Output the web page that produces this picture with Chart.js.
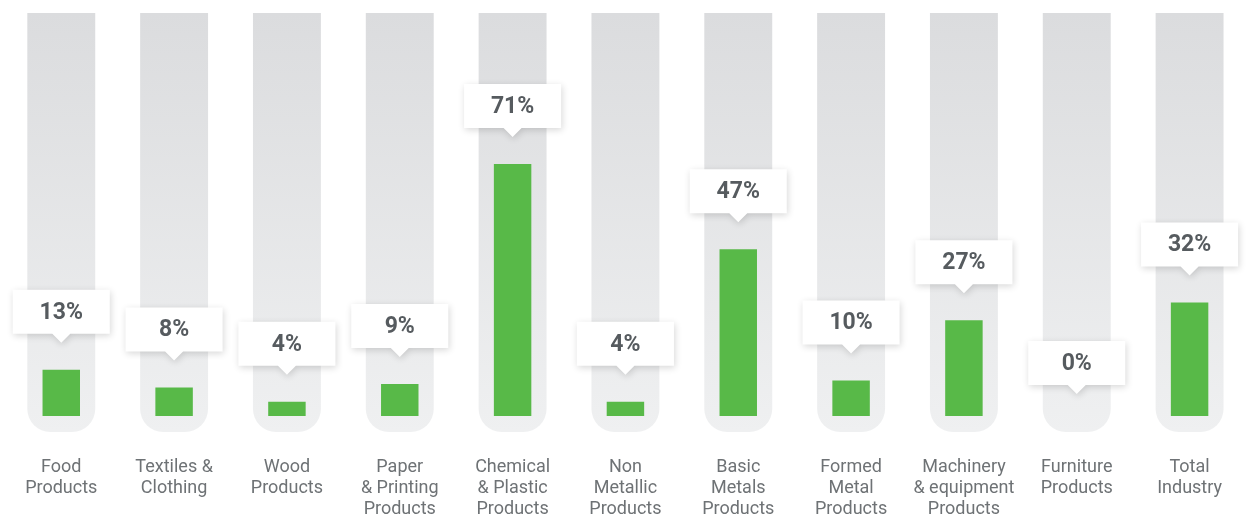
<!DOCTYPE html>
<html>
<head>
<meta charset="utf-8">
<script src="https://cdn.jsdelivr.net/npm/chart.js@4.4.1/dist/chart.umd.min.js"></script>
<style>
  html, body { margin: 0; padding: 0; background: #ffffff; }
  #wrap { width: 1251px; height: 518px; position: relative; }
</style>
</head>
<body>
<div id="wrap"><canvas id="c" width="1251" height="518"></canvas></div>
<script>
const categories = [
  ["Food", "Products"],
  ["Textiles &", "Clothing"],
  ["Wood", "Products"],
  ["Paper", "& Printing", "Products"],
  ["Chemical", "& Plastic", "Products"],
  ["Non", "Metallic", "Products"],
  ["Basic", "Metals", "Products"],
  ["Formed", "Metal", "Products"],
  ["Machinery", "& equipment", "Products"],
  ["Furniture", "Products"],
  ["Total", "Industry"]
];
const shareValues = [13, 8, 4, 9, 71, 4, 47, 10, 27, 0, 32];
const trackRange = [-4.5, 113.5];
const trackValues = categories.map(() => trackRange.slice());

const calloutPlugin = {
  id: 'callouts',
  afterDatasetsDraw(chart) {
    const ctx = chart.ctx;
    const meta = chart.getDatasetMeta(1);
    const boxW = 97, boxH = 44, tri = 9;
    meta.data.forEach((bar, i) => {
      const x = bar.x;
      const gap = shareValues[i] === 0 ? 22 : 27;
      const tipY = bar.y - gap;
      const bottom = tipY - tri;
      const top = bottom - boxH;
      const left = x - boxW / 2;
      ctx.save();
      ctx.shadowColor = 'rgba(0,0,0,0.16)';
      ctx.shadowBlur = 7;
      ctx.shadowOffsetX = 1;
      ctx.shadowOffsetY = 2;
      ctx.fillStyle = '#ffffff';
      ctx.beginPath();
      ctx.moveTo(left, top);
      ctx.lineTo(left + boxW, top);
      ctx.lineTo(left + boxW, bottom);
      ctx.lineTo(x + tri, bottom);
      ctx.lineTo(x, tipY);
      ctx.lineTo(x - tri, bottom);
      ctx.lineTo(left, bottom);
      ctx.closePath();
      ctx.fill();
      ctx.restore();
      ctx.save();
      ctx.fillStyle = '#565b5f';
      ctx.font = 'bold 23px Roboto, "DejaVu Sans", sans-serif';
      ctx.textAlign = 'center';
      ctx.textBaseline = 'middle';
      ctx.fillText(shareValues[i] + '%', x, top + boxH / 2 + 1);
      ctx.restore();
    });
  }
};

new Chart(document.getElementById('c'), {
  type: 'bar',
  data: {
    labels: categories,
    datasets: [
      {
        label: 'track',
        data: trackValues,
        grouped: false,
        order: 2,
        barPercentage: 0.602,
        categoryPercentage: 1,
        borderSkipped: false,
        borderRadius: { topLeft: 0, topRight: 0, bottomLeft: 23, bottomRight: 23 },
        backgroundColor: (c) => {
          const ca = c.chart.chartArea;
          if (!ca) return '#e5e6e7';
          const g = c.chart.ctx.createLinearGradient(0, ca.top, 0, ca.bottom);
          g.addColorStop(0, '#dbdcde');
          g.addColorStop(1, '#eff0f1');
          return g;
        }
      },
      {
        label: 'share',
        data: shareValues,
        grouped: false,
        order: 1,
        barPercentage: 0.332,
        categoryPercentage: 1,
        backgroundColor: '#58b948'
      }
    ]
  },
  options: {
    responsive: false,
    animation: false,
    layout: { padding: { top: 13, left: 3.5, right: 5, bottom: 0 } },
    plugins: { legend: { display: false }, tooltip: { enabled: false } },
    scales: {
      y: { display: false, min: trackRange[0], max: trackRange[1] },
      x: {
        grid: { display: false, drawTicks: false },
        border: { display: false },
        afterFit: (s) => { s.height = 86; },
        ticks: {
          autoSkip: false,
          maxRotation: 0,
          minRotation: 0,
          padding: 25,
          color: '#6e7275',
          font: { family: 'Roboto, "DejaVu Sans", sans-serif', size: 18, lineHeight: 1.17 }
        }
      }
    }
  },
  plugins: [calloutPlugin]
});
</script>
</body>
</html>
